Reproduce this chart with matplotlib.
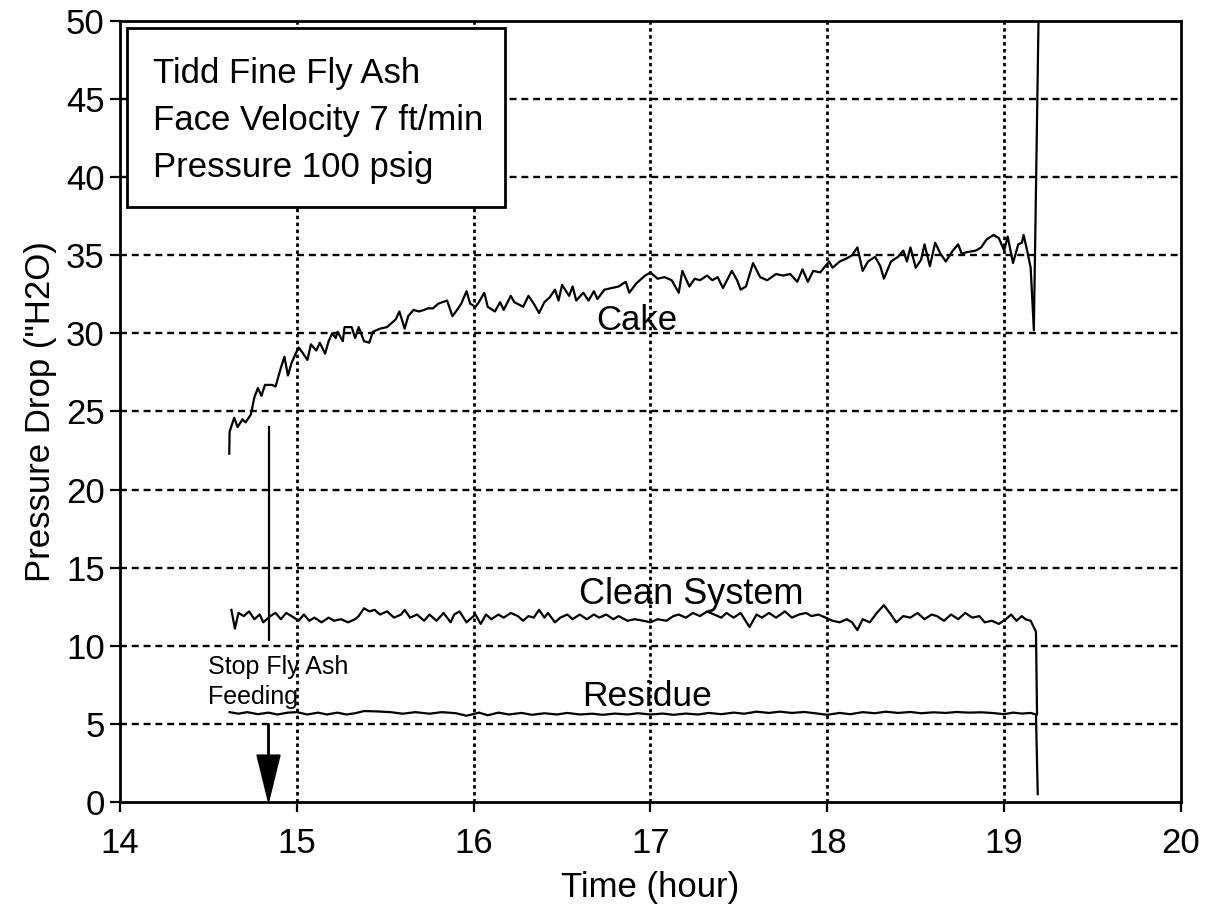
import matplotlib
matplotlib.use('Agg')
import matplotlib.pyplot as plt
from matplotlib.patches import Rectangle, FancyArrow

plt.rcParams['font.family'] = ['Liberation Sans', 'DejaVu Sans']
plt.rcParams['lines.scale_dashes'] = False

# ---------------- data ----------------
cake_t = [14.618, 14.62, 14.646, 14.665, 14.693, 14.71, 14.74, 14.76, 14.78, 14.80,
          14.82, 14.86, 14.88, 14.91, 14.93, 14.95, 14.97, 15.01, 15.03, 15.06,
          15.08, 15.11, 15.13, 15.16, 15.18, 15.20, 15.22, 15.23, 15.26, 15.27,
          15.31, 15.33, 15.35, 15.38, 15.41, 15.43, 15.47, 15.51, 15.54, 15.56,
          15.58, 15.61, 15.63, 15.66, 15.69, 15.72, 15.74, 15.77, 15.80, 15.85,
          15.88, 15.90, 15.93, 15.96, 15.98, 16.01, 16.03, 16.06, 16.08, 16.12,
          16.15, 16.17, 16.21, 16.23, 16.28, 16.31, 16.34, 16.37, 16.40, 16.43,
          16.46, 16.48, 16.50, 16.54, 16.56, 16.58, 16.62, 16.65, 16.68, 16.70,
          16.74, 16.78, 16.82, 16.86, 16.88, 16.92, 16.97, 17.00, 17.04, 17.08,
          17.12, 17.16, 17.18, 17.22, 17.25, 17.28, 17.32, 17.35, 17.38, 17.41,
          17.46, 17.49, 17.51, 17.54, 17.58, 17.62, 17.66, 17.71, 17.75, 17.79,
          17.83, 17.86, 17.89, 17.92, 17.96, 18.01, 18.03, 18.07, 18.11, 18.14,
          18.17, 18.20, 18.23, 18.27, 18.30, 18.32, 18.36, 18.40, 18.43, 18.45,
          18.47, 18.50, 18.53, 18.55, 18.58, 18.61, 18.64, 18.67, 18.71, 18.74,
          18.76, 18.79, 18.84, 18.87, 18.90, 18.94, 18.97, 19.00, 19.02, 19.05,
          19.08, 19.10, 19.11, 19.13, 19.15, 19.168, 19.195]
cake_p = [22.3, 23.7, 24.6, 24.0, 24.5, 24.3, 24.8, 25.9, 26.5, 26.0,
          26.7, 26.7, 26.6, 27.8, 28.5, 27.3, 28.1, 29.1, 28.8, 28.3,
          29.3, 28.9, 29.4, 28.7, 29.5, 30.0, 29.7, 30.1, 29.5, 30.4,
          30.4, 29.7, 30.4, 29.5, 29.4, 30.1, 30.3, 30.4, 30.7, 30.9,
          31.4, 30.3, 31.1, 31.5, 31.4, 31.5, 31.6, 31.6, 31.9, 32.1,
          31.1, 31.4, 31.9, 32.7, 31.9, 31.7, 32.0, 32.6, 31.7, 31.4,
          32.0, 31.5, 32.4, 32.0, 31.7, 32.4, 31.9, 31.3, 32.0, 32.3,
          32.8, 32.1, 33.1, 32.4, 33.0, 32.1, 32.6, 32.1, 32.7, 32.2,
          32.8, 32.9, 33.0, 33.3, 32.6, 33.2, 33.7, 33.9, 33.5, 33.6,
          33.4, 32.6, 34.0, 33.0, 33.5, 33.4, 33.7, 33.4, 33.6, 32.9,
          34.0, 33.4, 32.8, 33.0, 34.5, 33.6, 33.4, 33.8, 33.7, 33.8,
          33.3, 34.1, 33.3, 34.0, 33.9, 34.6, 34.2, 34.6, 34.8, 35.0,
          35.5, 34.0, 34.6, 34.9, 34.3, 33.5, 34.6, 34.9, 35.3, 34.6,
          35.5, 34.2, 34.7, 35.7, 34.3, 35.8, 35.1, 34.6, 35.3, 35.7,
          35.1, 35.2, 35.3, 35.5, 36.0, 36.3, 36.1, 35.3, 36.2, 34.5,
          35.7, 35.8, 36.3, 35.3, 34.2, 30.2, 50.5]

clean_t = [14.63, 14.65, 14.67, 14.70, 14.73, 14.76, 14.79, 14.81, 14.85, 14.88,
           14.91, 14.94, 14.97, 15.01, 15.04, 15.07, 15.10, 15.14, 15.18, 15.21,
           15.25, 15.29, 15.33, 15.35, 15.38, 15.41, 15.44, 15.47, 15.51, 15.55,
           15.59, 15.61, 15.64, 15.68, 15.72, 15.75, 15.79, 15.83, 15.87, 15.89,
           15.92, 15.96, 15.99, 16.01, 16.04, 16.07, 16.10, 16.14, 16.17, 16.21,
           16.25, 16.28, 16.31, 16.34, 16.37, 16.40, 16.42, 16.46, 16.49, 16.53,
           16.56, 16.60, 16.64, 16.68, 16.71, 16.75, 16.79, 16.82, 16.87, 16.91,
           16.96, 17.00, 17.04, 17.09, 17.13, 17.16, 17.20, 17.24, 17.28, 17.32,
           17.36, 17.40, 17.43, 17.47, 17.51, 17.56, 17.60, 17.63, 17.67, 17.71,
           17.76, 17.80, 17.84, 17.88, 17.91, 17.95, 17.99, 18.03, 18.07, 18.11,
           18.14, 18.17, 18.20, 18.24, 18.28, 18.32, 18.36, 18.39, 18.43, 18.47,
           18.51, 18.55, 18.59, 18.62, 18.66, 18.70, 18.74, 18.78, 18.82, 18.86,
           18.89, 18.93, 18.97, 19.01, 19.04, 19.07, 19.10, 19.12, 19.15, 19.18,
           19.186]
clean_p = [12.3, 11.1, 12.1, 11.9, 12.2, 11.7, 12.0, 11.5, 11.9, 12.1,
           11.7, 12.1, 11.9, 11.6, 12.0, 11.6, 11.8, 11.5, 11.8, 11.6,
           11.7, 11.5, 11.7, 11.9, 12.4, 12.2, 12.3, 12.0, 12.2, 11.8,
           12.0, 12.3, 11.8, 12.0, 11.6, 12.0, 11.6, 12.1, 11.5, 12.0,
           12.2, 11.5, 11.8, 12.0, 11.4, 12.0, 11.7, 12.0, 11.8, 12.1,
           11.9, 11.6, 11.9, 11.8, 12.3, 11.8, 12.1, 11.5, 11.8, 12.0,
           11.7, 12.0, 11.7, 12.0, 11.8, 12.0, 11.7, 11.9, 11.6, 11.7,
           11.6, 11.5, 11.7, 11.6, 11.9, 12.0, 11.8, 12.1, 11.9, 12.2,
           12.0, 11.8, 12.1, 11.8, 12.1, 11.2, 12.0, 11.8, 12.1, 11.8,
           12.2, 11.8, 12.0, 12.1, 11.9, 12.0, 11.8, 11.6, 11.5, 11.7,
           11.5, 11.0, 11.7, 11.5, 12.1, 12.6, 12.0, 11.5, 11.9, 11.8,
           12.1, 11.7, 12.0, 11.9, 11.6, 12.0, 11.7, 12.1, 11.8, 11.9,
           11.5, 11.6, 11.4, 11.7, 12.0, 11.6, 11.9, 11.7, 11.6, 10.9,
           5.6]

resid_t = [14.62, 14.67, 14.72, 14.78, 14.84, 14.89, 14.95, 15.00, 15.06, 15.12,
           15.17, 15.23, 15.28, 15.33, 15.38, 15.45, 15.53, 15.60, 15.67, 15.75,
           15.82, 15.90, 15.96, 16.03, 16.08, 16.14, 16.20, 16.27, 16.33, 16.40,
           16.47, 16.53, 16.60, 16.67, 16.73, 16.80, 16.87, 16.93, 17.00, 17.07,
           17.13, 17.20, 17.27, 17.33, 17.40, 17.47, 17.53, 17.60, 17.67, 17.73,
           17.80, 17.87, 17.93, 18.00, 18.07, 18.13, 18.20, 18.27, 18.33, 18.40,
           18.47, 18.53, 18.60, 18.67, 18.73, 18.80, 18.87, 18.93, 19.00, 19.05,
           19.10, 19.15, 19.18, 19.19]
resid_p = [5.75, 5.65, 5.75, 5.62, 5.72, 5.60, 5.72, 5.75, 5.60, 5.72,
           5.60, 5.72, 5.60, 5.68, 5.82, 5.80, 5.75, 5.65, 5.75, 5.65,
           5.75, 5.68, 5.52, 5.72, 5.55, 5.72, 5.60, 5.70, 5.58, 5.68,
           5.60, 5.70, 5.60, 5.65, 5.58, 5.66, 5.60, 5.68, 5.60, 5.66,
           5.58, 5.66, 5.60, 5.70, 5.62, 5.72, 5.65, 5.78, 5.70, 5.78,
           5.70, 5.76, 5.68, 5.58, 5.70, 5.62, 5.75, 5.68, 5.78, 5.70,
           5.76, 5.68, 5.74, 5.70, 5.76, 5.72, 5.74, 5.70, 5.62, 5.72,
           5.66, 5.70, 5.60, 0.5]

x_ticks = [14, 15, 16, 17, 18, 19, 20]
y_ticks = [0, 5, 10, 15, 20, 25, 30, 35, 40, 45, 50]
grid_x = [15, 16, 17, 18, 19]
grid_y = [5, 10, 15, 20, 25, 30, 35, 40, 45]
info_lines = ["Tidd Fine Fly Ash", "Face Velocity 7 ft/min", "Pressure 100 psig"]
stop_time = 14.84

# ---------------- figure ----------------
fig = plt.figure(figsize=(12.13, 9.07), dpi=100)
ax = fig.add_axes([0.0989, 0.1158, 0.8747, 0.8611])
ax.set_xlim(14, 20)
ax.set_ylim(0, 50)

for gy in grid_y:
    ax.axhline(gy, color='black', lw=1.7, ls=(0, (5, 3.5)), zorder=1)
for gx in grid_x:
    ax.axvline(gx, color='black', lw=2.0, ls=(0, (2.5, 2.5)), zorder=1)

ax.plot(cake_t, cake_p, color='black', lw=1.6, zorder=2)
ax.plot(clean_t, clean_p, color='black', lw=1.6, zorder=2)
ax.plot(resid_t, resid_p, color='black', lw=1.6, zorder=2)

# annotation arrow "Stop Fly Ash Feeding"
ax.plot([stop_time, stop_time], [24.0, 10.4], color='black', lw=1.6, zorder=2)
ax.add_patch(FancyArrow(stop_time, 5.0, 0, -5.0, width=0.008, head_width=0.13,
                        head_length=3.0, length_includes_head=True,
                        color='black', zorder=4))
ax.text(14.50, 8.19, 'Stop Fly Ash', fontsize=18, va='baseline', ha='left')
ax.text(14.50, 6.26, 'Feeding', fontsize=18, va='baseline', ha='left')

ax.text(16.92, 30.8, 'Cake', fontsize=25, ha='center', va='center')
ax.text(17.23, 13.3, 'Clean System', fontsize=26, ha='center', va='center')
ax.text(16.98, 6.75, 'Residue', fontsize=25.5, ha='center', va='center')

# info box
ax.add_patch(Rectangle((0.0066, 0.762), 0.356, 0.229, transform=ax.transAxes,
                       facecolor='white', edgecolor='black', lw=2, zorder=3))
for i, line in enumerate(info_lines):
    ax.text(0.031, 0.9206 - i * 0.0602, line, transform=ax.transAxes,
            fontsize=25, va='baseline', ha='left', zorder=4)

ax.set_xticks(x_ticks)
ax.set_yticks(y_ticks)
ax.tick_params(direction='out', length=7, width=1.6, labelsize=25, pad=4)
ax.tick_params(axis='x', pad=11)
for s in ax.spines.values():
    s.set_linewidth(2)

ax.set_xlabel('Time (hour)', fontsize=25, va='center')
ax.xaxis.set_label_coords(0.5, -0.109)
ax.set_ylabel('Pressure Drop ("H2O)', fontsize=25, va='center')
ax.yaxis.set_label_coords(-0.075, 0.5)

fig.savefig('out.png', dpi=100)
